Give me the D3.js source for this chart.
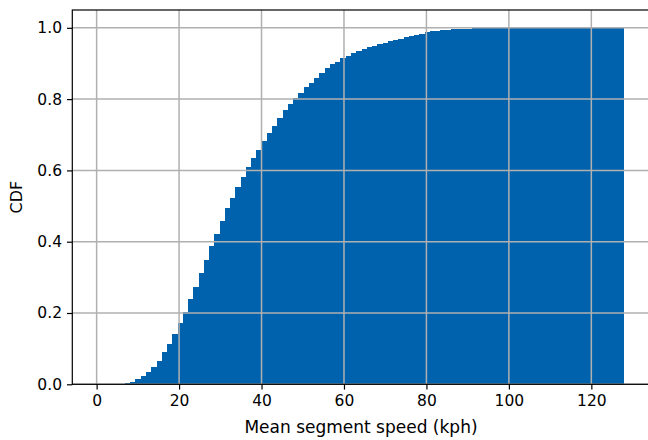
<!DOCTYPE html>
<html>
<head>
<meta charset="utf-8">
<script src="https://cdn.jsdelivr.net/npm/d3@7"></script>
<style>
  body { margin: 0; background: white; }
  text { font-family: "DejaVu Sans", sans-serif; fill: #000; }
</style>
</head>
<body>
<svg id="chart" width="648" height="440"></svg>
<script>
// histogram: 100 bins from 0.5 to 128 kph, cumulative share of segments
const binStart = 0.5;
const binEnd = 128;
const cdf = [
    0.000, 0.000, 0.0005, 0.001, 0.002, 0.003, 0.007, 0.014, 0.023, 0.035,
    0.049, 0.066, 0.091, 0.113, 0.140, 0.171, 0.204, 0.239, 0.274, 0.311,
    0.349, 0.388, 0.422, 0.458, 0.494, 0.523, 0.554, 0.582, 0.610, 0.634,
    0.657, 0.682, 0.706, 0.725, 0.746, 0.769, 0.786, 0.804, 0.818, 0.833,
    0.846, 0.860, 0.874, 0.886, 0.898, 0.905, 0.914, 0.921, 0.928, 0.934,
    0.940, 0.945, 0.950, 0.955, 0.958, 0.962, 0.966, 0.970, 0.974, 0.978,
    0.981, 0.984, 0.987, 0.990, 0.992, 0.994, 0.995, 0.996, 0.997, 0.998,
    0.998, 0.999, 0.999, 0.9995, 0.9995, 0.9995, 0.9995, 0.9995, 0.9995, 0.9995,
    0.9995, 0.9995, 0.9995, 0.9995, 0.9995, 0.9995, 0.9995, 0.9995, 0.9995, 0.9995,
    0.9995, 0.9995, 0.9995, 0.9995, 0.9995, 0.9995, 0.9995, 0.9995, 0.9995, 1.000
];
const xTicks = [0, 20, 40, 60, 80, 100, 120];
const yTicks = [0.0, 0.2, 0.4, 0.6, 0.8, 1.0];
const xTitle = "Mean segment speed (kph)";
const yTitle = "CDF";

const svg = d3.select("#chart");
const plotL = 72.3, plotR = 650.7, plotT = 10, plotB = 384.3;

const x = d3.scaleLinear().domain([-5.9, 134.4]).range([plotL, plotR]);
const y = d3.scaleLinear().domain([0, 1.05]).range([plotB, plotT]);

const binW = (binEnd - binStart) / cdf.length;
const bins = cdf.map((v, i) => ({ x0: binStart + i * binW, x1: binStart + (i + 1) * binW, v: v }));

// bars, snapped to whole pixels so no seams show between them
svg.append("g")
    .attr("shape-rendering", "crispEdges")
    .selectAll("rect")
    .data(bins)
    .enter()
    .append("rect")
    .attr("x", d => Math.round(x(d.x0)))
    .attr("width", d => Math.round(x(d.x1)) - Math.round(x(d.x0)))
    .attr("y", d => Math.round(y(d.v)))
    .attr("height", d => Math.round(y(0)) - Math.round(y(d.v)))
    .attr("fill", "#0062ad");

// grid on top of the bars
const grid = svg.append("g").attr("stroke", "#b0b0b0").attr("stroke-width", 1.5);
grid.selectAll(".gx")
    .data(xTicks)
    .enter()
    .append("line")
    .attr("x1", d => x(d)).attr("x2", d => x(d))
    .attr("y1", plotT).attr("y2", plotB);
grid.selectAll(".gy")
    .data(yTicks)
    .enter()
    .append("line")
    .attr("x1", plotL).attr("x2", plotR)
    .attr("y1", d => y(d)).attr("y2", d => y(d));

// axes
const xAxis = svg.append("g")
    .attr("transform", `translate(0,${plotB})`)
    .call(d3.axisBottom(x).tickValues(xTicks).tickFormat(d3.format("d")).tickSize(5.3).tickPadding(5));
const yAxis = svg.append("g")
    .attr("transform", `translate(${plotL},0)`)
    .call(d3.axisLeft(y).tickValues(yTicks).tickFormat(d3.format(".1f")).tickSize(5.3).tickPadding(5));

[xAxis, yAxis].forEach(a => {
    a.select(".domain").remove();
    a.selectAll(".tick line").attr("stroke", "#000").attr("stroke-width", 1.2);
    a.selectAll(".tick text").style("font-size", "15.5px").attr("fill", "#000");
});

// frame
svg.append("rect")
    .attr("x", plotL).attr("y", plotT)
    .attr("width", plotR - plotL).attr("height", plotB - plotT)
    .attr("fill", "none")
    .attr("stroke", "#000")
    .attr("stroke-width", 1.2);

svg.append("text")
    .text(xTitle)
    .attr("x", 361)
    .attr("y", 433)
    .style("text-anchor", "middle")
    .style("font-size", "17px");

svg.append("text")
    .text(yTitle)
    .attr("transform", `translate(22,${(plotT + plotB) / 2}) rotate(-90)`)
    .style("text-anchor", "middle")
    .style("font-size", "16px");
</script>
</body>
</html>
